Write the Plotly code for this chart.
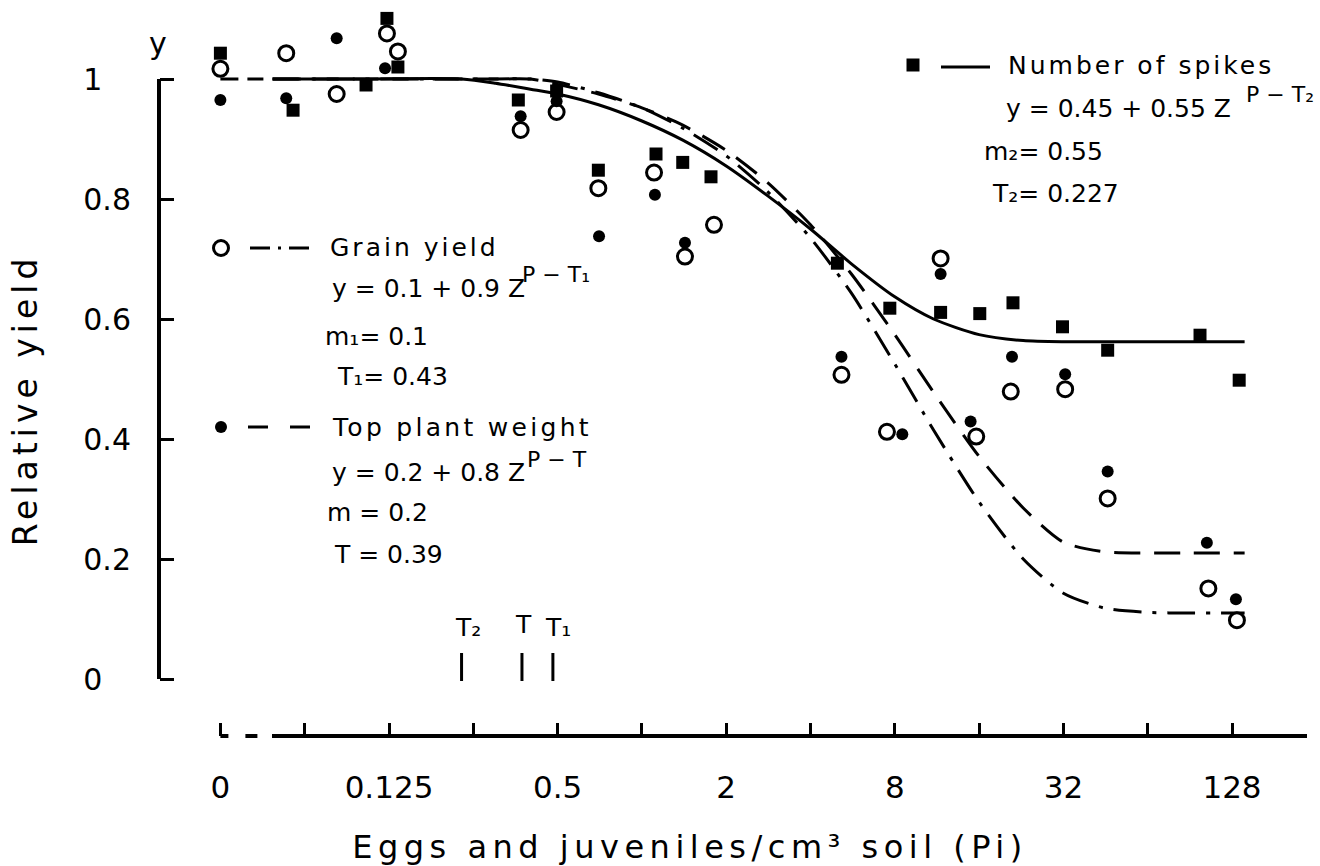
import plotly.graph_objects as go

W, H = 1320, 866
FONT = "DejaVu Sans"

# ---------------- data ----------------
ZERO_POS = 0.03125          # position on the log axis where Pi = 0 is drawn
X_TICK_VALS = [0.03125, 0.125, 0.5, 2, 8, 32, 128]
X_TICK_TEXT = ["0", "0.125", "0.5", "2", "8", "32", "128"]
X_MINOR_VALS = [0.0625, 0.25, 1, 4, 16, 64]
Y_TICK_VALS = [0, 0.2, 0.4, 0.6, 0.8, 1]
Y_TICK_TEXT = ["0\u00a0\u00a0\u00a0", "0.2", "0.4", "0.6", "0.8", "1\u00a0\u00a0\u00a0"]

# Number of spikes (filled squares)
spikes_pi = [0, 0.0568, 0.1035, 0.1229, 0.1345, 0.362, 0.496, 0.699, 1.123, 1.399,
             1.765, 4.99, 7.68, 11.66, 16.09, 21.14, 31.76, 46.05, 98.4, 135.8]
spikes_y = [1.043, 0.948, 0.990, 1.101, 1.020, 0.965, 0.980, 0.848, 0.875, 0.861,
            0.837, 0.693, 0.618, 0.611, 0.609, 0.627, 0.587, 0.548, 0.573, 0.498]

# Grain yield (open circles)
grain_pi = [0, 0.0537, 0.0813, 0.1229, 0.1345, 0.369, 0.496, 0.699, 1.105, 1.425,
            1.809, 5.16, 7.50, 11.66, 15.63, 20.76, 32.47, 46.05, 105.4, 133.3]
grain_y = [1.017, 1.043, 0.975, 1.076, 1.046, 0.915, 0.945, 0.818, 0.844, 0.704,
           0.757, 0.507, 0.412, 0.701, 0.404, 0.479, 0.483, 0.301, 0.151, 0.098]

# Top plant weight (dots)
weight_pi = [0, 0.0537, 0.0813, 0.1210, 0.369, 0.496, 0.703, 1.113, 1.425, 5.16,
             8.51, 11.66, 14.92, 20.97, 32.47, 46.05, 104.1, 132.2]
weight_y = [0.965, 0.968, 1.068, 1.018, 0.938, 0.963, 0.738, 0.807, 0.727, 0.537,
            0.408, 0.675, 0.429, 0.537, 0.508, 0.346, 0.227, 0.133]

# fitted curves
curve_pi = [0.048, 0.1, 0.227, 0.3, 0.4, 0.5, 0.7, 1.0, 1.4, 2.0, 2.8, 4.0,
            5.6, 8.0, 11.0, 16.0, 23.0, 32.0, 45.0, 64.0, 90.0, 142.0]
spikes_curve = [1.0, 1.0, 1.0, 0.993, 0.983, 0.975, 0.957, 0.930, 0.898, 0.855, 0.806, 0.750,
                0.692, 0.637, 0.600, 0.574, 0.564, 0.562, 0.562, 0.562, 0.562, 0.562]
grain_curve = [1.0, 1.0, 1.0, 1.0, 1.0, 0.995, 0.977, 0.952, 0.918, 0.872, 0.813, 0.735,
               0.643, 0.525, 0.415, 0.295, 0.200, 0.143, 0.118, 0.111, 0.110, 0.110]
weight_curve = [1.0, 1.0, 1.0, 1.0, 1.0, 0.991, 0.975, 0.952, 0.923, 0.881, 0.828, 0.757,
                0.675, 0.574, 0.478, 0.371, 0.285, 0.228, 0.212, 0.210, 0.210, 0.210]

# threshold markers
t_pi = [0.227, 0.373, 0.481]
t_y = [0.02, 0.02, 0.02]


# ---------------- helpers ----------------
def px_x(px):
    return px / W


def px_y(py):
    return 1 - py / H


def on_axis(vals):
    return [v if v > 0 else ZERO_POS for v in vals]


fig = go.Figure()

# broken (dashed) start of the curves between 0 and the log scale
fig.add_trace(go.Scatter(
    x=[ZERO_POS, curve_pi[0]], y=[spikes_curve[0], spikes_curve[0]], mode="lines",
    line=dict(color="black", width=3, dash="18px,9px,16px,30px"), hoverinfo="skip"))

fig.add_trace(go.Scatter(
    x=curve_pi, y=spikes_curve, mode="lines", name="Number of spikes",
    line=dict(color="black", width=3, shape="spline", smoothing=0.7), hoverinfo="skip"))
fig.add_trace(go.Scatter(
    x=curve_pi, y=weight_curve, mode="lines", name="Top plant weight",
    line=dict(color="black", width=3, dash="26px,14px", shape="spline", smoothing=0.7),
    hoverinfo="skip"))
fig.add_trace(go.Scatter(
    x=curve_pi, y=grain_curve, mode="lines", name="Grain yield",
    line=dict(color="black", width=3, dash="28px,11px,4px,11px", shape="spline", smoothing=0.7),
    hoverinfo="skip"))

fig.add_trace(go.Scatter(
    x=on_axis(spikes_pi), y=spikes_y, mode="markers", cliponaxis=False,
    marker=dict(symbol="square", size=13, color="black"), hoverinfo="skip"))
fig.add_trace(go.Scatter(
    x=on_axis(grain_pi), y=grain_y, mode="markers", cliponaxis=False,
    marker=dict(symbol="circle", size=15, color="white", line=dict(color="black", width=3)),
    hoverinfo="skip"))
fig.add_trace(go.Scatter(
    x=on_axis(weight_pi), y=weight_y, mode="markers", cliponaxis=False,
    marker=dict(symbol="circle", size=12, color="black"), hoverinfo="skip"))

# threshold tick marks
fig.add_trace(go.Scatter(
    x=t_pi, y=t_y, mode="markers", cliponaxis=False,
    marker=dict(symbol="line-ns", size=20, line=dict(color="black", width=3)),
    hoverinfo="skip"))

# ---------------- axes ----------------
X_LEFT_PX, Y_AXIS_PX, X_AXIS_PY = 60, 159, 736
fig.update_xaxes(
    type="log", range=[-2.07792, 2.42146], domain=[px_x(X_LEFT_PX), 1],
    anchor="free", position=px_y(X_AXIS_PY),
    showgrid=False, zeroline=False, showline=False,
    ticks="inside", ticklen=13, tickwidth=3, tickcolor="black",
    tickmode="array", tickvals=X_TICK_VALS, ticktext=X_TICK_TEXT, ticklabelstandoff=30,
    tickfont=dict(family=FONT, size=31, color="black"),
    minor=dict(tickmode="array", tickvals=X_MINOR_VALS, ticks="inside", ticklen=13,
               tickwidth=3, tickcolor="black", showgrid=False),
    title=dict(text="Eggs and juveniles/cm³ soil (Pi)",
               font=dict(family=FONT, size=32, color="black"), standoff=32),
)
fig.update_yaxes(
    range=[-0.20167, 1.13167], domain=[px_y(800), 1],
    anchor="free", position=px_x(Y_AXIS_PX),
    showgrid=False, zeroline=False, showline=False,
    ticks="inside", ticklen=14, tickwidth=3, tickcolor="black",
    tickmode="array", tickvals=Y_TICK_VALS, ticktext=Y_TICK_TEXT, ticklabelstandoff=28,
    tickfont=dict(family=FONT, size=30, color="black"),
    title=dict(text="Relative yield", font=dict(family=FONT, size=33, color="black"),
               standoff=34),
)

shapes = [
    # y axis line (0 .. 1)
    dict(type="line", xref="paper", yref="y", x0=px_x(Y_AXIS_PX), x1=px_x(Y_AXIS_PX),
         y0=0, y1=1, line=dict(color="black", width=4)),
    # x axis: broken part then solid
    dict(type="line", xref="paper", yref="paper", x0=px_x(220.4), x1=px_x(272),
         y0=px_y(X_AXIS_PY), y1=px_y(X_AXIS_PY),
         line=dict(color="black", width=4, dash="8px,17px,12px,30px")),
    dict(type="line", xref="paper", yref="paper", x0=px_x(272), x1=px_x(1307),
         y0=px_y(X_AXIS_PY), y1=px_y(X_AXIS_PY), line=dict(color="black", width=4)),
    # legend line samples
    dict(type="line", xref="paper", yref="paper", x0=px_x(941), x1=px_x(990),
         y0=px_y(67), y1=px_y(67), line=dict(color="black", width=3)),
    dict(type="line", xref="paper", yref="paper", x0=px_x(250), x1=px_x(310),
         y0=px_y(248), y1=px_y(248), line=dict(color="black", width=3, dash="20px,8px,3px,8px")),
    dict(type="line", xref="paper", yref="paper", x0=px_x(248), x1=px_x(313),
         y0=px_y(427), y1=px_y(427), line=dict(color="black", width=3, dash="20px,22px")),
    # legend symbols
    dict(type="rect", xref="paper", yref="paper", xsizemode="pixel", ysizemode="pixel",
         xanchor=px_x(913), yanchor=px_y(65), x0=-6.5, x1=6.5, y0=-6.5, y1=6.5,
         line=dict(width=0), fillcolor="black"),
    dict(type="circle", xref="paper", yref="paper", xsizemode="pixel", ysizemode="pixel",
         xanchor=px_x(221), yanchor=px_y(248), x0=-7.5, x1=7.5, y0=-7.5, y1=7.5,
         line=dict(width=3, color="black"), fillcolor="white"),
    dict(type="circle", xref="paper", yref="paper", xsizemode="pixel", ysizemode="pixel",
         xanchor=px_x(221), yanchor=px_y(427), x0=-6, x1=6, y0=-6, y1=6,
         line=dict(width=0), fillcolor="black"),
]

legend_text = [
    ("Number of spikes", 1006, 65, 25),
    ("y = 0.45 + 0.55 Z", 1004, 108, 25),
    ("P − T₂", 1244, 95, 22),
    ("m₂= 0.55", 982, 152, 25),
    ("T₂= 0.227", 990, 193, 25),
    ("Grain yield", 328, 248, 25),
    ("y = 0.1 + 0.9 Z", 330, 288, 25),
    ("P − T₁", 520, 274, 22),
    ("m₁= 0.1", 323, 336, 25),
    ("T₁= 0.43", 335, 376, 25),
    ("Top plant weight", 330, 427, 25),
    ("y = 0.2 + 0.8 Z", 330, 472, 25),
    ("P − T", 525, 460, 22),
    ("m = 0.2", 325, 512, 25),
    ("T = 0.39", 332, 554, 25),
    ("T₂", 453, 627, 25),
    ("T", 513, 624, 25),
    ("T₁", 543, 627, 25),
    ("y", 147, 43, 30),
]
annotations = [
    dict(text=t, x=px_x(x), y=px_y(y), xref="paper", yref="paper", xanchor="left",
         yanchor="middle", align="left", showarrow=False,
         font=dict(family=FONT, size=s, color="black"))
    for t, x, y, s in legend_text
]

fig.update_layout(
    width=W, height=H, margin=dict(l=0, r=0, t=0, b=0),
    paper_bgcolor="white", plot_bgcolor="white", showlegend=False, hovermode=False,
    shapes=shapes, annotations=annotations,
    font=dict(family=FONT, color="black"),
)

# widen the letter spacing of the captions, as in the printed figure
POST = """
document.body.style.margin = '0';
var gd = document.getElementById('{plot_id}');
var spacing = {'Number of spikes': '3px', 'Grain yield': '3px', 'Top plant weight': '3.3px'};
gd.querySelectorAll('text').forEach(function (t) {
  var s = t.textContent;
  if (spacing.hasOwnProperty(s)) { t.style.letterSpacing = spacing[s]; }
});
var xt = gd.querySelector('.xtitle'); if (xt) { xt.style.letterSpacing = '5.5px'; }
var yt = gd.querySelector('.ytitle'); if (yt) { yt.style.letterSpacing = '5px'; }
"""

fig.write_html("out.html", post_script=POST, config={"displayModeBar": False})
